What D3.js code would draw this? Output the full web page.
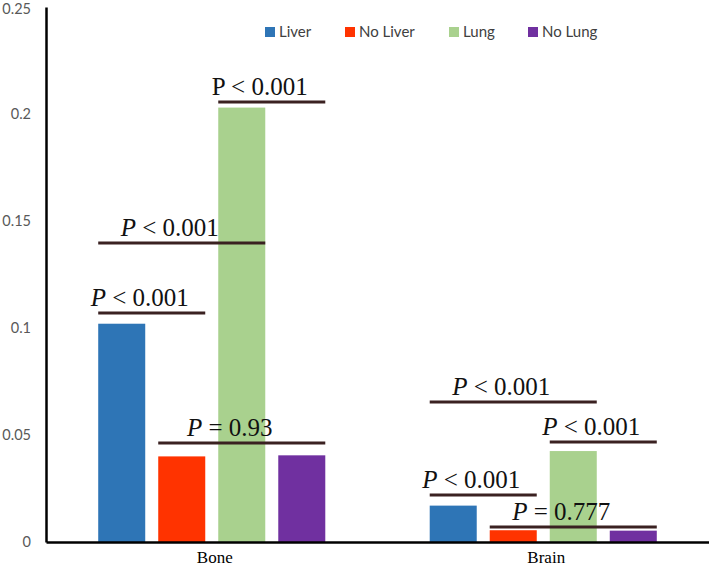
<!DOCTYPE html>
<html>
<head>
<meta charset="utf-8">
<script src="https://cdn.jsdelivr.net/npm/d3@7"></script>
<style>
  html, body { margin: 0; padding: 0; background: #ffffff; }
  svg { display: block; }
</style>
</head>
<body>
<svg id="chart" width="709" height="568"></svg>
<script>
// ---- data ----
const categories = ["Bone", "Brain"];
const series = ["Liver", "No Liver", "Lung", "No Lung"];
const liverValues = [0.102, 0.017];
const noLiverValues = [0.040, 0.0055];
const lungValues = [0.203, 0.0425];
const noLungValues = [0.0405, 0.0053];
const yTickValues = [0, 0.05, 0.1, 0.15, 0.2, 0.25];

// significance annotations
const annCategory = ["Bone", "Bone", "Bone", "Bone", "Brain", "Brain", "Brain", "Brain"];
const annFrom = ["Liver", "Liver", "Lung", "No Liver", "Liver", "Lung", "Liver", "No Liver"];
const annTo = ["No Liver", "Lung", "No Lung", "No Lung", "Lung", "No Lung", "No Liver", "No Lung"];
const annLevel = [0.107, 0.1397, 0.2056, 0.0463, 0.0654, 0.0467, 0.0220, 0.0070];
const annOp = ["<", "<", "<", "=", "<", "<", "<", "="];
const annValue = ["0.001", "0.001", "0.001", "0.93", "0.001", "0.001", "0.001", "0.777"];
const annItalic = [true, true, false, true, true, true, true, true];

const colors = ["#2E75B6", "#FF3300", "#A9D18E", "#7030A0"];

(function () {
  const valuesBySeries = [liverValues, noLiverValues, lungValues, noLungValues];
  const bars = [];
  categories.forEach((c, ci) => {
    series.forEach((s, si) => bars.push({ cat: c, ser: s, value: valuesBySeries[si][ci] }));
  });

  const svg = d3.select("#chart");
  const mLeft = 46, mRight = 709, mTop = 7, mBottom = 542;

  const x = d3.scaleBand().domain(categories).range([mLeft, mRight]).paddingInner(0).paddingOuter(0);
  const xs = d3.scaleBand().domain(series).range([0, x.bandwidth()])
    .paddingInner(13 / 60).paddingOuter(0.87);
  const y = d3.scaleLinear().domain([0, 0.25]).range([mBottom, mTop]);
  const color = d3.scaleOrdinal().domain(series).range(colors);

  // bars
  svg.append("g").selectAll("rect").data(bars).join("rect")
    .attr("x", d => x(d.cat) + xs(d.ser))
    .attr("y", d => y(d.value))
    .attr("width", xs.bandwidth())
    .attr("height", d => y(0) - y(d.value))
    .attr("fill", d => color(d.ser));

  // y axis
  const yAxis = svg.append("g").attr("transform", `translate(${mLeft},0)`)
    .call(d3.axisLeft(y).tickValues(yTickValues).tickFormat(d3.format("~g"))
      .tickSize(0).tickSizeOuter(0).tickPadding(15));
  yAxis.select(".domain").attr("stroke", "#000").attr("stroke-width", 2.5);
  yAxis.selectAll("text").attr("font-family", "Lato, 'Open Sans', sans-serif")
    .attr("font-size", 14.5).attr("fill", "#595959");
  yAxis.selectAll(".tick").filter(d => d === d3.max(yTickValues))
    .select("text").attr("dy", "0.45em");

  // x axis
  const xAxis = svg.append("g").attr("transform", `translate(0,${mBottom})`)
    .call(d3.axisBottom(x).tickSize(0).tickSizeOuter(0).tickPadding(9));
  xAxis.select(".domain").attr("stroke", "#000").attr("stroke-width", 2.5);
  xAxis.selectAll("text").attr("font-family", "'Liberation Serif', 'Times New Roman', serif")
    .attr("font-size", 17).attr("fill", "#000").attr("dx", 3);

  // annotations
  const anns = annCategory.map((c, i) => ({
    cat: c, from: annFrom[i], to: annTo[i], level: annLevel[i],
    op: annOp[i], val: annValue[i], italic: annItalic[i]
  }));
  const ag = svg.append("g");
  anns.forEach(a => {
    const x0 = x(a.cat) + xs(a.from);
    const x1 = x(a.cat) + xs(a.to) + xs.bandwidth();
    const yy = y(a.level);
    ag.append("line").attr("x1", x0).attr("x2", x1).attr("y1", yy).attr("y2", yy)
      .attr("stroke", "#3a2121").attr("stroke-width", 3);
    const t = ag.append("text")
      .attr("x", (x0 + x1) / 2 - 12).attr("y", yy - 7)
      .attr("text-anchor", "middle")
      .attr("font-family", "'Liberation Serif', 'Times New Roman', serif")
      .attr("font-size", 25).attr("fill", "#111");
    t.append("tspan").attr("font-style", a.italic ? "italic" : "normal").text("P");
    t.append("tspan").text(" " + a.op + " " + a.val);
  });

  // legend
  const legendX = [265, 345, 449, 528];
  const lg = svg.append("g");
  series.forEach((s, i) => {
    const g = lg.append("g").attr("transform", `translate(${legendX[i]},27)`);
    g.append("rect").attr("width", 10).attr("height", 10).attr("fill", color(s));
    g.append("text").attr("x", 14).attr("y", 5).attr("dy", "0.35em")
      .attr("font-family", "Lato, 'Open Sans', sans-serif").attr("font-size", 15)
      .attr("fill", "#404040").text(s);
  });
})();
</script>
</body>
</html>
